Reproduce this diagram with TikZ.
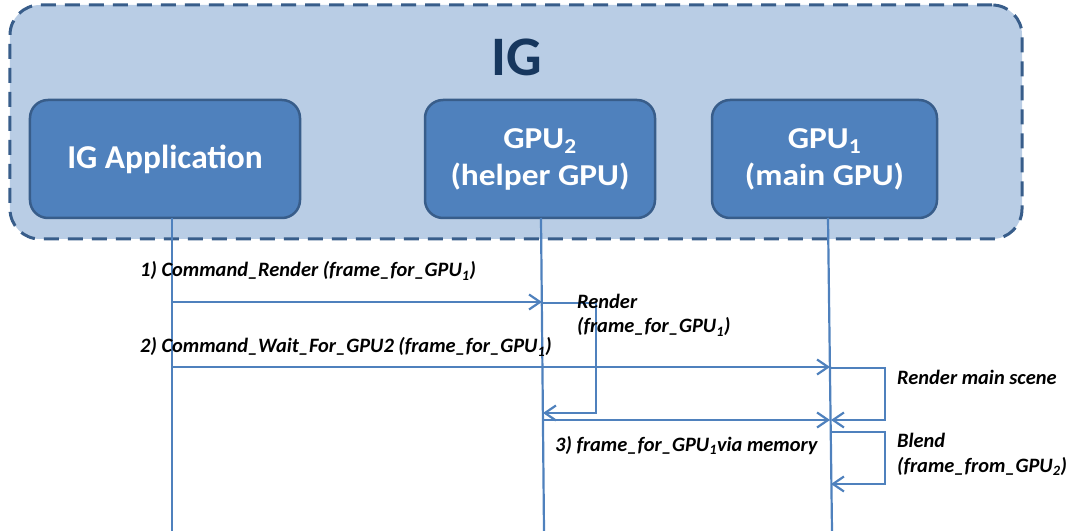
\documentclass[tikz,border=0pt]{standalone}
\usepackage{fontspec}
\setmainfont{Carlito}
\newfontfamily\widefont{Carlito}[FakeStretch=1.1]
\usetikzlibrary{arrows.meta}
\definecolor{panelfill}{HTML}{B9CDE5}
\definecolor{paneledge}{HTML}{385D8A}
\definecolor{boxfill}{HTML}{4F81BD}
\definecolor{boxedge}{HTML}{385D8A}
\definecolor{titleblue}{HTML}{17375E}
\definecolor{wire}{HTML}{4F81BD}
\newcommand{\sbs}[1]{\textsubscript{#1}}
\begin{document}
\begin{tikzpicture}[x=1bp,y=-1bp,
  panel/.style={draw=paneledge, fill=panelfill, line width=3bp,
    dash pattern=on 15bp off 9bp, rounded corners=30bp, inner sep=0},
  actor/.style={draw=boxedge, fill=boxfill, line width=2.5bp,
    rounded corners=18bp, minimum height=118bp, text=white,
    font=\widefont\fontsize{30.5}{37}\selectfont\bfseries, align=center, inner sep=0},
  life/.style={draw=wire, line width=2.2bp},
  msg/.style={draw=wire, line width=2.2bp,
    -{Straight Barb[length=11bp,width=15bp]}},
  lbl/.style={font=\fontsize{20.5}{24}\selectfont\bfseries\itshape,
    anchor=base west, inner sep=0},
]
\useasboundingbox (0,0) rectangle (1080,531);

% system boundary
\node[panel, minimum width=1012bp, minimum height=234bp] (ig) at (516,122) {};
\node[font=\fontsize{56}{60}\selectfont\bfseries, text=titleblue] (title) at (517,57) {IG};

% participants
\node[actor, minimum width=270bp, font=\fontsize{33.5}{37}\selectfont\bfseries] (app) at (165,159) {IG Application};
\node[actor, minimum width=230bp] (gpu2) at (540,159) {GPU\sbs{2}\\(helper GPU)};
\node[actor, minimum width=225bp] (gpu1) at (824.5,159) {GPU\sbs{1}\\(main GPU)};

% lifelines
\coordinate (appT) at (172,218);  \coordinate (appB) at (172,531);
\coordinate (g2T) at (541,218);   \coordinate (g2B) at (544,531);
\coordinate (g1T) at (828,218);   \coordinate (g1B) at (832,531);
\draw[life] (appT) -- (appB);
\draw[life] (g2T) -- (g2B);
\draw[life] (g1T) -- (g1B);

% message end points
\coordinate (m1s) at (172,302);  \coordinate (m1e) at (542,302);
\coordinate (r2s) at (542,303);  \coordinate (r2a) at (596,303);
\coordinate (r2b) at (596,413);  \coordinate (r2e) at (543,413);
\coordinate (m2s) at (172,367);  \coordinate (m2e) at (830,367);
\coordinate (r1s) at (830,368);  \coordinate (r1a) at (885,368);
\coordinate (r1b) at (885,420);  \coordinate (r1e) at (831,420);
\coordinate (m3s) at (543,420);  \coordinate (m3e) at (830,420);
\coordinate (bls) at (831,432);  \coordinate (bla) at (885,432);
\coordinate (blb) at (885,484);  \coordinate (ble) at (831,484);

% messages and self calls
\draw[msg] (m1s) -- (m1e);
\draw[msg] (r2s) -- (r2a) -- (r2b) -- (r2e);
\draw[msg] (m2s) -- (m2e);
\draw[msg] (r1s) -- (r1a) -- (r1b) -- (r1e);
\draw[msg] (m3s) -- (m3e);
\draw[msg] (bls) -- (bla) -- (blb) -- (ble);

% labels
\node[lbl] (l1) at (140,277) {1) Command\_Render (frame\_for\_GPU\sbs{1})};
\node[lbl] (l2) at (140,353) {2) Command\_Wait\_For\_GPU2 (frame\_for\_GPU\sbs{1})};
\node[lbl] (lr2a) at (577,309) {Render};
\node[lbl] (lr2b) at (577,333) {(frame\_for\_GPU\sbs{1})};
\node[lbl] (lr1) at (897,385) {Render main scene};
\node[lbl] (l3) at (555,451) {3) frame\_for\_GPU\sbs{1}via memory};
\node[lbl] (lbl1) at (897,447) {Blend};
\node[lbl] (lbl2) at (897,472) {(frame\_from\_GPU\sbs{2})};
\end{tikzpicture}
\end{document}
